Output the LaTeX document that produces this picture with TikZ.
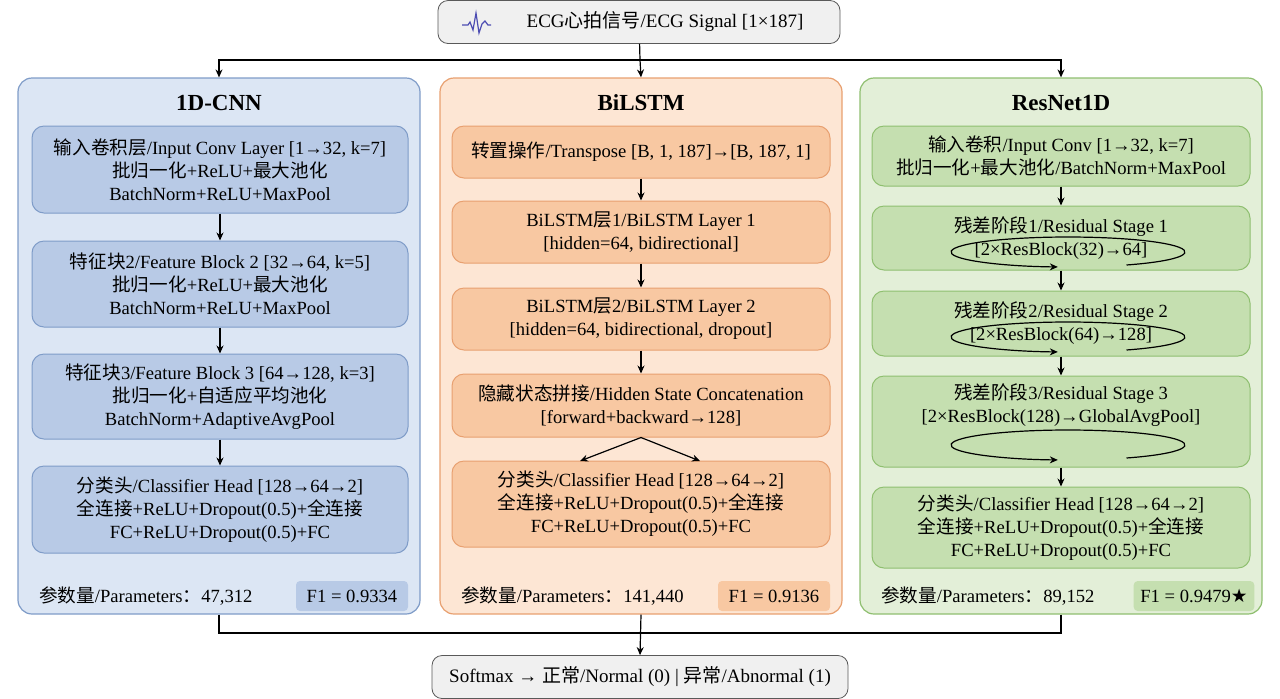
\documentclass[tikz,border=0pt]{standalone}
\usepackage{fontspec}
\setmainfont{Liberation Serif}
\newfontfamily\cjk{Noto Sans CJK SC}
\newfontfamily\symfont{DejaVu Sans}
\usetikzlibrary{arrows.meta}
\newcommand\zh[1]{{\cjk #1}}
\definecolor{cnnbg}{HTML}{DCE6F4}
\definecolor{cnnln}{HTML}{7F9CC8}
\definecolor{cnnbx}{HTML}{B8CAE6}
\definecolor{lstbg}{HTML}{FDE6D4}
\definecolor{lstln}{HTML}{E8A070}
\definecolor{lstbx}{HTML}{F8C8A2}
\definecolor{resbg}{HTML}{E3EFD8}
\definecolor{resln}{HTML}{8FBF70}
\definecolor{resbx}{HTML}{C5DFB0}
\tikzset{
  panel/.style={draw=#1ln, fill=#1bg, rounded corners=7pt, line width=0.6pt},
  blk/.style={draw=#1ln, fill=#1bx, rounded corners=6pt, line width=0.5pt,
    align=center, inner sep=0pt, font=\fontsize{9.3}{11.5}\selectfont},
  ttl/.style={font=\fontsize{11.5}{13}\selectfont\bfseries},
  io/.style={draw=gray!70!black, fill=gray!12, rounded corners=5pt, inner sep=0pt,
    minimum height=21.5pt, font=\fontsize{9.5}{11}\selectfont},
  arr/.style={-{Stealth[length=4pt,width=3.5pt]}, line width=0.6pt},
  param/.style={anchor=west, font=\fontsize{9.3}{11}\selectfont},
  fone/.style={fill=#1bx, minimum width=56pt, minimum height=15pt, rounded corners=2pt,
    font=\fontsize{9.3}{11}\selectfont},
}
\begin{document}
\begin{tikzpicture}[x=0.5pt,y=-0.5pt]
\useasboundingbox (0,0) rectangle (1280,698);
% input and output
\node[io, minimum width=201pt] (ecg) at (639,22) {\hspace*{26pt}ECG\zh{心拍信号}/ECG Signal [1×187]};
\draw[line width=0.6pt, color=blue!40!gray] (462,25) -- (468,25) -- (470,22) -- (473,30) -- (476,13) -- (479,33) -- (482,24) -- (485,21) -- (488,25) -- (491,25);
\node[io, minimum width=208pt] (out) at (640,677) {Softmax → \zh{正常}/Normal (0) | \zh{异常}/Abnormal (1)};

% panels
\node[panel=cnn, minimum width=201pt, minimum height=268pt] (cnn) at (219,346) {};
\node[panel=lst, minimum width=201pt, minimum height=268pt] (lstm) at (641,346) {};
\node[panel=res, minimum width=201pt, minimum height=268pt] (res) at (1061,346) {};
\node[ttl] at (219,103) {1D-CNN};
\node[ttl] at (641,103) {BiLSTM};
\node[ttl] at (1061,103) {ResNet1D};

\coordinate (tj) at (640,60);
\coordinate (bj) at (640,633);
\draw[line width=0.6pt] (ecg) -- (tj);
\draw[arr] (tj) -| (cnn.north);
\draw[arr] (tj) -| (res.north);
\draw[arr] (tj) -- (lstm.north);
\draw[line width=0.6pt] (cnn.south) |- (bj);
\draw[line width=0.6pt] (res.south) |- (bj);
\draw[arr] (lstm.south) -- (out.north);

% 1D-CNN
\node[blk=cnn, minimum width=188pt, minimum height=43.5pt] (c1) at (220,169.5)
  {\zh{输入卷积层}/Input Conv Layer [1→32, k=7]\\ \zh{批归一化}+ReLU+\zh{最大池化}\\ BatchNorm+ReLU+MaxPool};
\node[blk=cnn, minimum width=188pt, minimum height=43pt] (c2) at (220,284)
  {\zh{特征块}2/Feature Block 2 [32→64, k=5]\\ \zh{批归一化}+ReLU+\zh{最大池化}\\ BatchNorm+ReLU+MaxPool};
\node[blk=cnn, minimum width=188pt, minimum height=42.5pt] (c3) at (220,396.5)
  {\zh{特征块}3/Feature Block 3 [64→128, k=3]\\ \zh{批归一化}+\zh{自适应平均池化}\\ BatchNorm+AdaptiveAvgPool};
\node[blk=cnn, minimum width=188pt, minimum height=43.5pt] (c4) at (220,509.5)
  {\zh{分类头}/Classifier Head [128→64→2]\\ \zh{全连接}+ReLU+Dropout(0.5)+\zh{全连接}\\ FC+ReLU+Dropout(0.5)+FC};
\draw[arr] (c1) -- (c2);
\draw[arr] (c2) -- (c3);
\draw[arr] (c3) -- (c4);
\node[param] at (32,596) {\zh{参数量}/Parameters\zh{：}47,312};
\node[fone=cnn] at (352,596) {F1 = 0.9334};

% BiLSTM
\node[blk=lst, minimum width=189pt, minimum height=26pt] (l1) at (641,152)
  {\zh{转置操作}/Transpose [B, 1, 187]→[B, 187, 1]};
\node[blk=lst, minimum width=189pt, minimum height=31pt] (l2) at (641,232)
  {BiLSTM\zh{层}1/BiLSTM Layer 1\\ {[}hidden=64, bidirectional]};
\node[blk=lst, minimum width=189pt, minimum height=31pt] (l3) at (641,319)
  {BiLSTM\zh{层}2/BiLSTM Layer 2\\ {[}hidden=64, bidirectional, dropout]};
\node[blk=lst, minimum width=189pt, minimum height=31.5pt] (l4) at (641,405.5)
  {\zh{隐藏状态拼接}/Hidden State Concatenation\\ {[}forward+backward→128]};
\node[blk=lst, minimum width=189pt, minimum height=43pt] (l5) at (641,504)
  {\zh{分类头}/Classifier Head [128→64→2]\\ \zh{全连接}+ReLU+Dropout(0.5)+\zh{全连接}\\ FC+ReLU+Dropout(0.5)+FC};
\draw[arr] (l1) -- (l2);
\draw[arr] (l2) -- (l3);
\draw[arr] (l3) -- (l4);
\draw[arr] (l4.south) -- (580,461);
\draw[arr] (l4.south) -- (700,461);
\node[param] at (454,596) {\zh{参数量}/Parameters\zh{：}141,440};
\node[fone=lst] at (774,596) {F1 = 0.9136};

% ResNet1D
\node[blk=res, minimum width=189pt, minimum height=30pt] (r1) at (1061,156)
  {\zh{输入卷积}/Input Conv [1→32, k=7]\\ \zh{批归一化}+\zh{最大池化}/BatchNorm+MaxPool};
\node[blk=res, minimum width=189pt, minimum height=32pt] (r2) at (1061,238)
  {\zh{残差阶段}1/Residual Stage 1\\ {[}2×ResBlock(32)→64]};
\node[blk=res, minimum width=189pt, minimum height=32.5pt] (r3) at (1061,323.5)
  {\zh{残差阶段}2/Residual Stage 2\\ {[}2×ResBlock(64)→128]};
\node[blk=res, minimum width=189pt, minimum height=45.5pt, text depth=18pt] (r4) at (1061,421.5)
  {\zh{残差阶段}3/Residual Stage 3\\ {[}2×ResBlock(128)→GlobalAvgPool]};
\node[blk=res, minimum width=189pt, minimum height=40.5pt] (r5) at (1061,527.5)
  {\zh{分类头}/Classifier Head [128→64→2]\\ \zh{全连接}+ReLU+Dropout(0.5)+\zh{全连接}\\ FC+ReLU+Dropout(0.5)+FC};
\draw[arr] (r1) -- (r2);
\draw[arr] (r2) -- (r3);
\draw[arr] (r3) -- (r4);
\draw[arr] (r4) -- (r5);
\foreach \cy in {252,337,445}
  \draw[arr] (1068,\cy) ++(60:117 and 15) arc[start angle=60, end angle=-265, x radius=117, y radius=15];
\node[param] at (874,596) {\zh{参数量}/Parameters\zh{：}89,152};
\node[fone=res] at (1194,596) {F1 = 0.9479{\symfont ★}};
\end{tikzpicture}
\end{document}
